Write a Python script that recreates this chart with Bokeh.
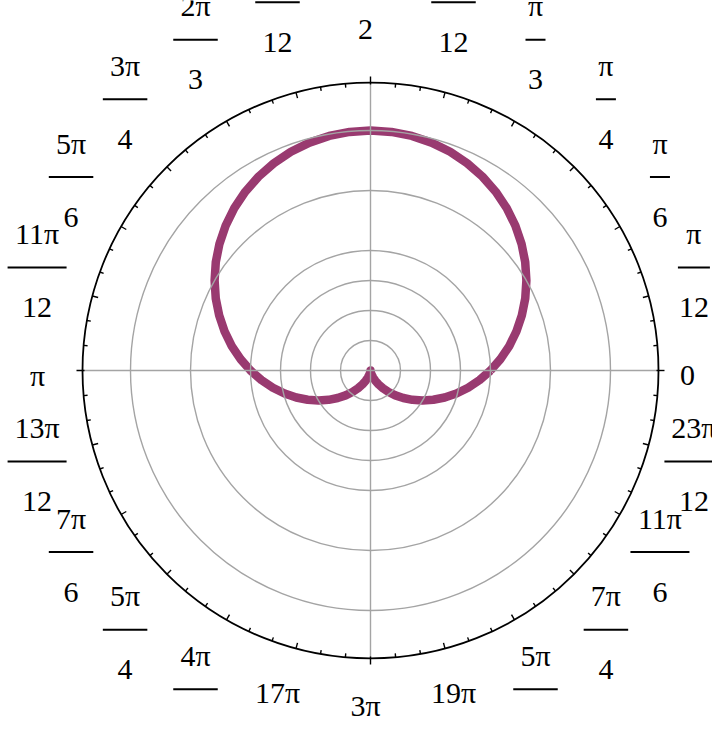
import numpy as np
from bokeh.plotting import figure
from bokeh.models import Range1d
from bokeh.core.properties import value
from bokeh.embed import file_html
from bokeh.resources import INLINE

# ---- data ----
theta_deg = list(range(0, 361, 5))
r_values = [1.000, 1.087, 1.174, 1.259, 1.342, 1.423, 1.500, 1.574, 1.643, 1.707,
            1.766, 1.819, 1.866, 1.906, 1.940, 1.966, 1.985, 1.996, 2.000, 1.996,
            1.985, 1.966, 1.940, 1.906, 1.866, 1.819, 1.766, 1.707, 1.643, 1.574,
            1.500, 1.423, 1.342, 1.259, 1.174, 1.087, 1.000, 0.913, 0.826, 0.741,
            0.658, 0.577, 0.500, 0.426, 0.357, 0.293, 0.234, 0.181, 0.134, 0.094,
            0.060, 0.034, 0.015, 0.004, 0.000, 0.004, 0.015, 0.034, 0.060, 0.094,
            0.134, 0.181, 0.234, 0.293, 0.357, 0.426, 0.500, 0.577, 0.658, 0.741,
            0.826, 0.913, 1.000]
grid_radii = [0.25, 0.5, 0.75, 1.0, 1.5, 2.0]
r_max = 2.4
grid_spoke_deg = [0, 90, 180, 270]
tick_deg = list(range(0, 360, 5))
label_deg = list(range(0, 360, 15))
label_num = ["0", "π", "π", "π", "π", "5π", "π", "7π", "2π", "3π", "5π", "11π",
             "π", "13π", "7π", "5π", "4π", "17π", "3π", "19π", "5π", "7π", "11π", "23π"]
label_den = ["", "12", "6", "4", "3", "12", "2", "12", "3", "4", "6", "12",
             "", "12", "6", "4", "3", "12", "2", "12", "3", "4", "6", "12"]

# ---- layout ----
PX = 120.0  # pixels per radial unit
W, H = 712, 718
CX, CY = 370, 370
CURVE = "#993a70"
GRAY = "#a4a4a4"
FONT = value("'Liberation Serif'")
FSIZE = "30px"

p = figure(width=W, height=H, output_backend="svg", toolbar_location=None,
           x_range=Range1d(-CX / PX, (W - CX) / PX),
           y_range=Range1d(-(H - CY) / PX, CY / PX),
           x_axis_type=None, y_axis_type=None, min_border=0)
p.outline_line_color = None
p.background_fill_color = "white"
p.border_fill_color = "white"

# curve
th = np.radians(theta_deg)
r = np.array(r_values)
p.line(r * np.cos(th), r * np.sin(th), line_color=CURVE, line_width=8.5, line_join="round")

# grid circles and spokes
n = len(grid_radii)
p.circle(x=[0] * n, y=[0] * n, radius=grid_radii, fill_color=None,
         line_color=GRAY, line_width=1.4)
sp = np.radians(grid_spoke_deg)
p.segment(x0=[0] * len(sp), y0=[0] * len(sp), x1=r_max * np.cos(sp), y1=r_max * np.sin(sp),
          line_color=GRAY, line_width=1.4)

# outer circle
p.circle(x=[0], y=[0], radius=[r_max], fill_color=None, line_color="black", line_width=1.8)

# ticks
ti, to = [], []
for a in tick_deg:
    if a % 90 == 0:
        ti.append(r_max - 2 / PX); to.append(r_max + 6 / PX)
    elif a % 15 == 0:
        ti.append(r_max - 6 / PX); to.append(r_max)
    else:
        ti.append(r_max - 4 / PX); to.append(r_max)
ta = np.radians(tick_deg)
ti, to = np.array(ti), np.array(to)
p.segment(x0=ti * np.cos(ta), y0=ti * np.sin(ta), x1=to * np.cos(ta), y1=to * np.sin(ta),
          line_color="black", line_width=1.4)

# labels
def text_w(s):
    w = 0.0
    for ch in s:
        w += 17 if ch == "π" else 14.5
    if "π" in s and len(s) > 1:
        w += 10
    return w

sx, sy, stxt = [], [], []
nx, ny, ntxt, dx, dy, dtxt = [], [], [], [], [], []
bx0, bx1, by = [], [], []
for a, num, den in zip(label_deg, label_num, label_den):
    t = np.radians(a)
    if den == "":
        sx.append((-8 + 325 * np.cos(t)) / PX)
        sy.append(-5 / PX)
        stxt.append(num)
    else:
        cx = (-5 + 340 * np.cos(t)) / PX
        cy = (6 + 375 * np.sin(t)) / PX
        nx.append(cx); ny.append(cy + 34 / PX); ntxt.append(num)
        dx.append(cx); dy.append(cy - 40 / PX); dtxt.append(den)
        half = (max(text_w(num), text_w(den)) + 3) / 2 / PX
        bx0.append(cx - half); bx1.append(cx + half); by.append(cy)

common = dict(text_font=FONT, text_font_size=FSIZE, text_align="center",
              text_baseline="alphabetic", text_color="black")
p.text(x=sx, y=sy, text=stxt, **common)
p.text(x=nx, y=ny, text=ntxt, **common)
p.text(x=dx, y=dy, text=dtxt, **common)
p.segment(x0=bx0, y0=by, x1=bx1, y1=by, line_color="black", line_width=2)

open("out.html", "w").write(file_html(p, INLINE))
